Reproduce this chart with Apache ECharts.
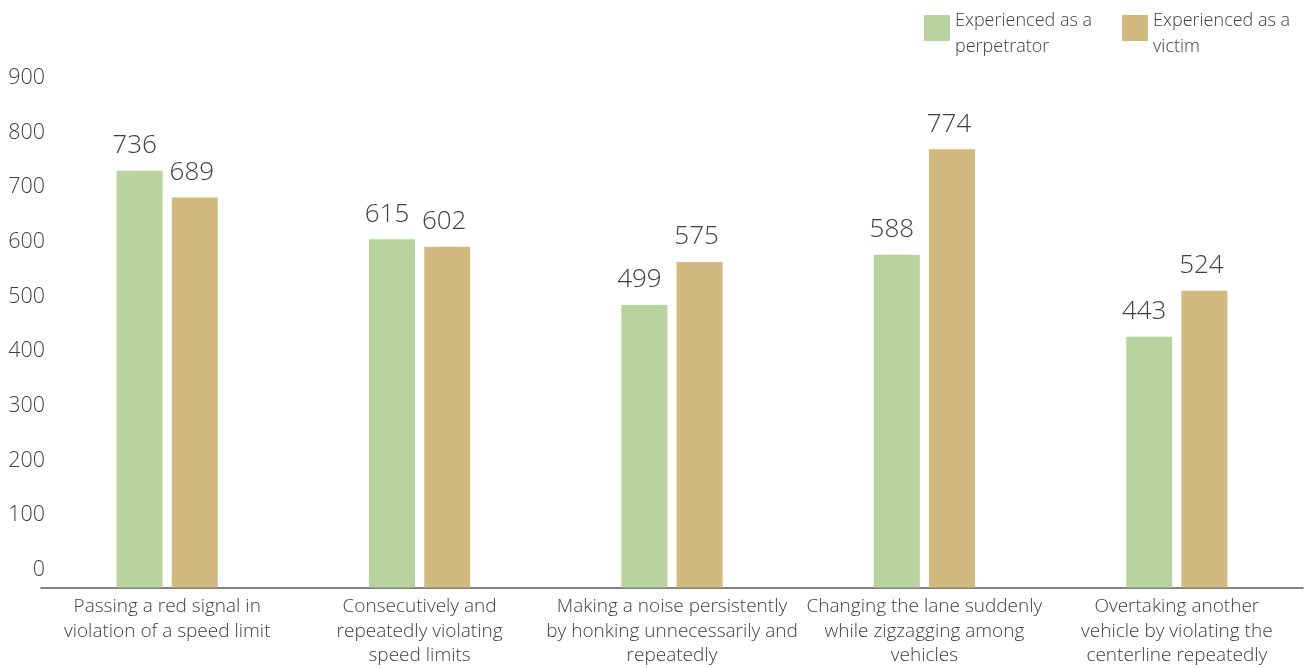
<!DOCTYPE html>
<html><head><meta charset="utf-8">
<script src="https://cdn.jsdelivr.net/npm/echarts@6/dist/echarts.min.js"></script>
<style>html,body{margin:0;padding:0;background:#fff}#c{width:1316px;height:668px}</style>
</head><body><div id="c"></div>
<script>
const categories = [
  "Passing a red signal in\nviolation of a speed limit",
  "Consecutively and\nrepeatedly violating\nspeed limits",
  "Making a noise persistently\nby honking unnecessarily and\nrepeatedly",
  "Changing the lane suddenly\nwhile zigzagging among\nvehicles",
  "Overtaking another\nvehicle by violating the\ncenterline repeatedly"
];
const seriesNames = ["Experienced as a\nperpetrator", "Experienced as a\nvictim"];
const perpetrator = [736, 615, 499, 588, 443];
const victim = [689, 602, 575, 774, 524];
const yTicks = [0, 100, 200, 300, 400, 500, 600, 700, 800, 900];

const font = "Open Sans";
const fw = 300;
const txt = "#404040";
const chart = echarts.init(document.getElementById('c'));
chart.setOption({
  animation: false,
  textStyle: {fontFamily: font, color: txt, fontWeight: fw},
  legend: {
    left: 924, top: 8, padding: 0, itemWidth: 26, itemHeight: 38, itemGap: 30,
    icon: 'path://M0,0H26V26H0Z M0,38L0.01,38Z',
    textStyle: {fontFamily: font, fontWeight: fw, fontSize: 18, color: txt, lineHeight: 26},
    data: seriesNames
  },
  grid: [
    {left: 41, right: 13, top: 78, bottom: 80, containLabel: false},
    {left: 41, right: 13, top: 78, bottom: 98, containLabel: false}
  ],
  xAxis: [
    {
      type: 'category', gridIndex: 0, data: categories,
      axisLine: {lineStyle: {color: '#595959', width: 1.5}},
      axisTick: {show: false},
      axisLabel: {fontFamily: font, fontWeight: fw, fontSize: 19, color: txt, lineHeight: 24.5, margin: 7, interval: 0}
    },
    {type: 'category', gridIndex: 1, data: categories, show: false}
  ],
  yAxis: [
    {type: 'value', gridIndex: 0, min: 0, max: 900, interval: 100, show: false},
    {
      type: 'value', gridIndex: 1, min: 0, max: 900, interval: 100,
      axisLine: {show: false}, axisTick: {show: false}, splitLine: {show: false},
      axisLabel: {fontFamily: font, fontWeight: fw, fontSize: 21.5, color: txt, margin: -4,
        formatter: v => yTicks.includes(v) ? String(v) : ''}
    }
  ],
  series: [
    {
      name: seriesNames[0], type: 'bar', xAxisIndex: 0, yAxisIndex: 0,
      data: perpetrator, barWidth: 46, barGap: '20%',
      itemStyle: {color: '#b8d39e'},
      label: {show: true, position: 'top', distance: 12, offset: [-5, 0], fontFamily: font, fontWeight: fw, fontSize: 26, color: txt}
    },
    {
      name: seriesNames[1], type: 'bar', xAxisIndex: 0, yAxisIndex: 0,
      data: victim, barWidth: 46, barGap: '20%',
      itemStyle: {color: '#d2b97f'},
      label: {show: true, position: 'top', distance: 12, offset: [-3, 0], fontFamily: font, fontWeight: fw, fontSize: 26, color: txt}
    }
  ]
});
</script></body></html>
